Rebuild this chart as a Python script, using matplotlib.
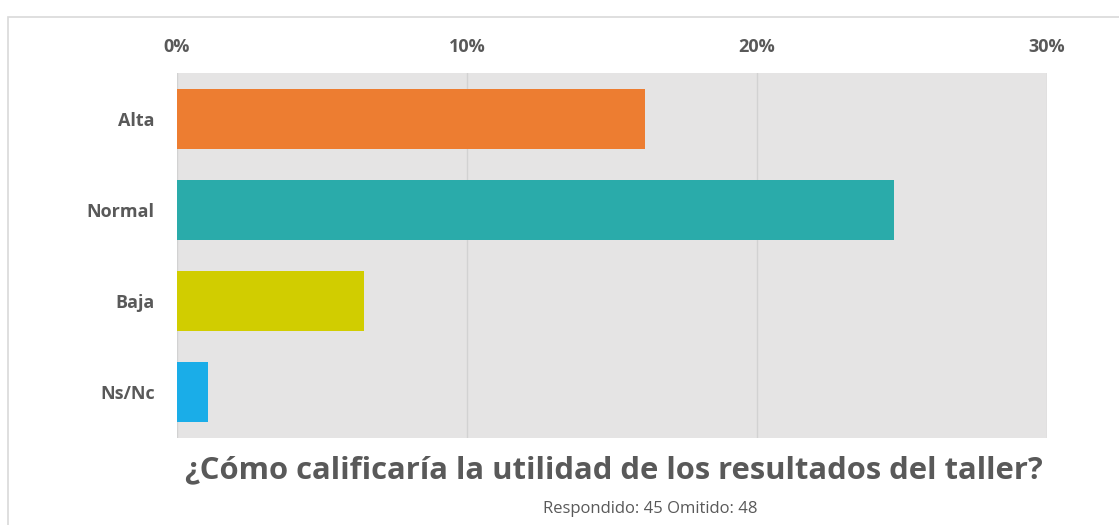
import matplotlib
matplotlib.use("Agg")
import matplotlib.pyplot as plt
from matplotlib.patches import Rectangle

categorias = ["Alta", "Normal", "Baja", "Ns/Nc"]
porcentajes = [16.13, 24.73, 6.45, 1.08]
colores = ["#ED7D31", "#2AABAA", "#D1CD00", "#1AADE8"]
ticks = [0, 10, 20, 30]
titulo = "¿Cómo calificaría la utilidad de los resultados del taller?"
subtitulo = "Respondido: 45 Omitido: 48"

W, H = 1119, 525
fig = plt.figure(figsize=(W / 100, H / 100), dpi=100)
plt.rcParams["font.family"] = ["Open Sans", "DejaVu Sans"]
gris = "#595959"

# marco fino alrededor (recortado a derecha y abajo)
fig.patches.append(Rectangle((8 / W, -0.1), 2, 1 - 17 / H + 0.1,
                             transform=fig.transFigure, fill=False,
                             ec="#d9d9d9", lw=1.2))

ax = fig.add_axes([177 / W, 1 - 438 / H, 870 / W, 365 / H])
ax.set_facecolor("#E5E4E4")
y = range(len(categorias))
ax.barh(y, porcentajes, height=0.66, color=colores, zorder=3)
ax.set_ylim(len(categorias) - 0.5, -0.5)
ax.set_xlim(0, 30)
ax.set_xticks(ticks)
ax.set_xticklabels([f"{t}%" for t in ticks])
ax.xaxis.tick_top()
ax.set_yticks(list(y))
ax.set_yticklabels(categorias)
ax.tick_params(length=0, colors=gris, labelsize=13)
ax.tick_params(axis="x", pad=12)
ax.tick_params(axis="y", pad=16)
for lab in ax.get_xticklabels() + ax.get_yticklabels():
    lab.set_fontweight("bold")
ax.grid(axis="x", color="#d2d2d2", lw=1, zorder=1)
for s in ax.spines.values():
    s.set_visible(False)

fig.text(614 / W, 1 - 470 / H, titulo, ha="center", va="center",
         fontsize=22.3, fontweight="bold", color=gris)
fig.text(650 / W, 1 - 509 / H, subtitulo, ha="center", va="center",
         fontsize=12, color=gris)

fig.savefig("out.png", dpi=100)
